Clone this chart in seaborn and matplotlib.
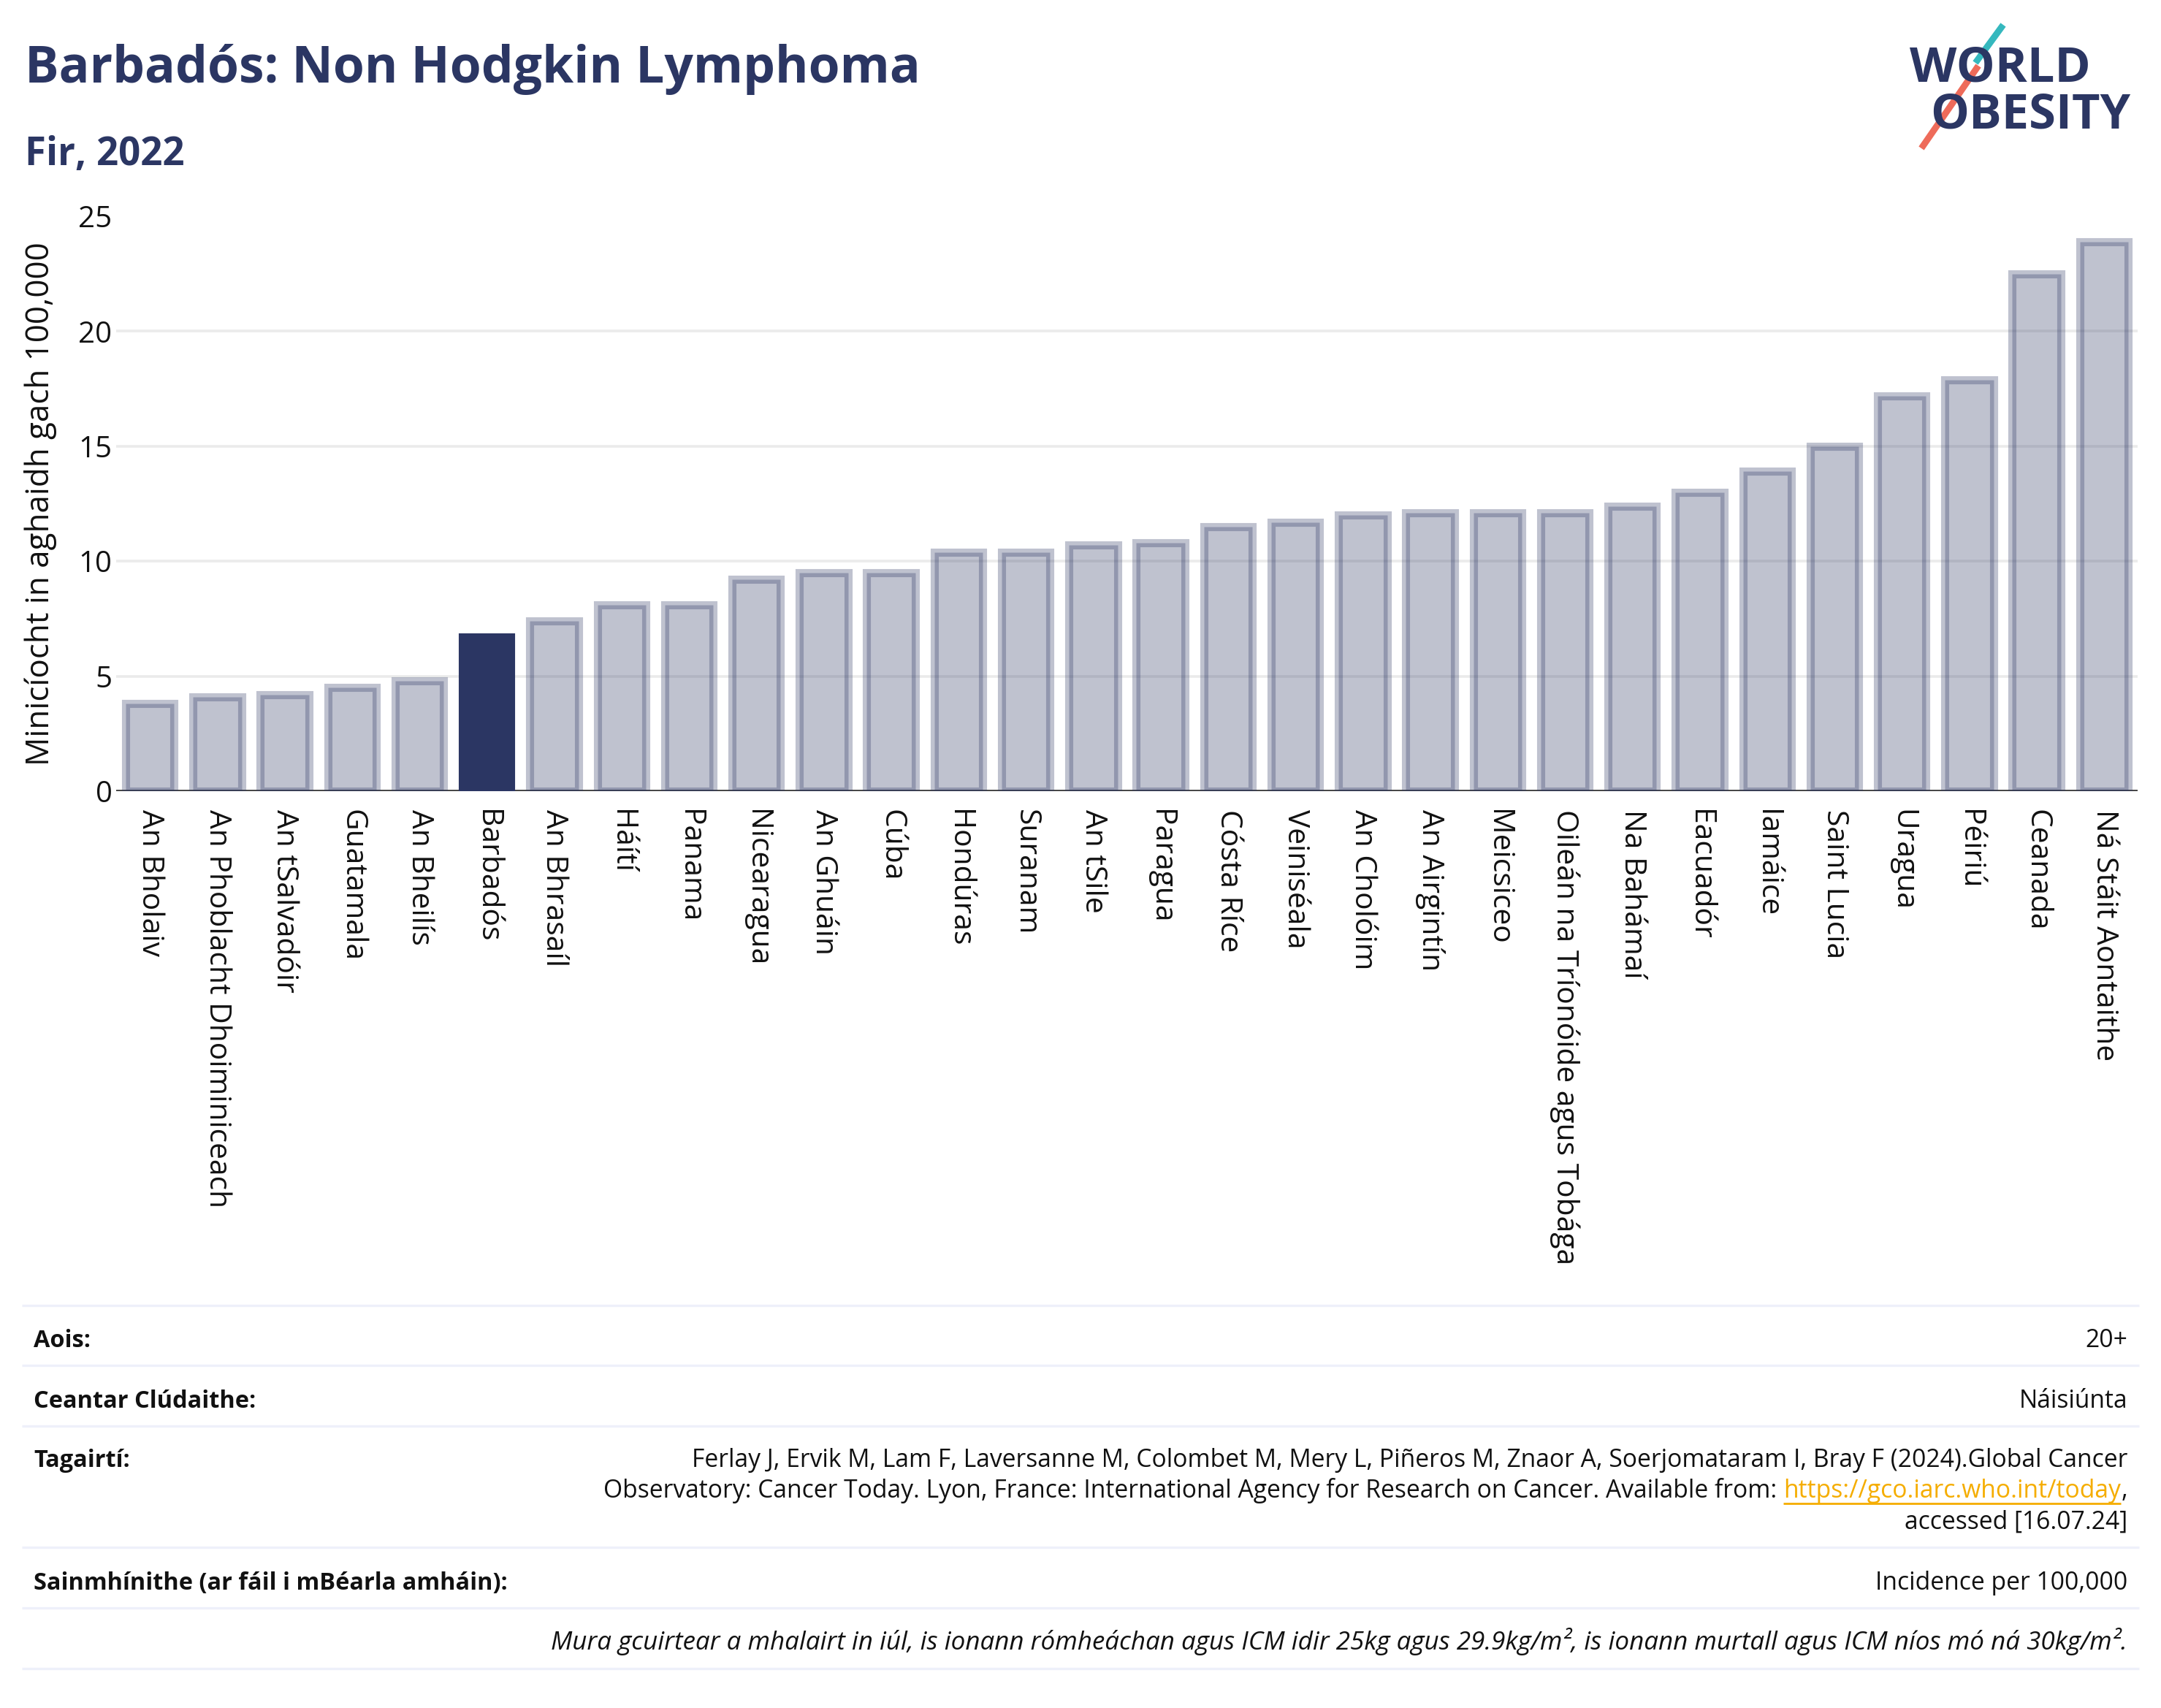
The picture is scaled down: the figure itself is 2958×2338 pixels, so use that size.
import matplotlib
matplotlib.use("Agg")
import matplotlib.pyplot as plt
import seaborn as sns
import numpy as np
from matplotlib.lines import Line2D

# ---------------- data ----------------
countries = ["An Bholaiv", "An Phoblacht Dhoiminiceach", "An tSalvadóir", "Guatamala",
             "An Bheilís", "Barbadós", "An Bhrasaíl", "Háítí", "Panama", "Nicearagua",
             "An Ghuáin", "Cúba", "Hondúras", "Suranam", "An tSile", "Paragua",
             "Cósta Ríce", "Veiniséala", "An Cholóim", "An Airgintín", "Meicsiceo",
             "Oileán na Tríonóide agus Tobága", "Na Bahámaí", "Eacuadór", "Iamáice",
             "Saint Lucia", "Uragua", "Péiriú", "Ceanada", "Ná Stáit Aontaithe"]
values = [3.8, 4.1, 4.2, 4.5, 4.8, 6.7, 7.4, 8.1, 8.1, 9.2,
          9.5, 9.5, 10.4, 10.4, 10.7, 10.8, 11.5, 11.7, 12.0, 12.1,
          12.1, 12.1, 12.4, 13.0, 13.9, 15.0, 17.2, 17.9, 22.5, 23.9]
highlight = "Barbadós"
y_ticks = [0, 5, 10, 15, 20, 25]

title = "Barbadós: Non Hodgkin Lymphoma"
subtitle = "Fir, 2022"
y_label = "Minicíocht in aghaidh gach 100,000"

footer_rows = [
    ("Aois:", "20+"),
    ("Ceantar Clúdaithe:", "Náisiúnta"),
    ("Tagairtí:", None),
    ("Sainmhínithe (ar fáil i mBéarla amháin):", "Incidence per 100,000"),
]
ref_line1 = ("Ferlay J, Ervik M, Lam F, Laversanne M, Colombet M, Mery L, Piñeros M, "
             "Znaor A, Soerjomataram I, Bray F (2024).Global Cancer")
ref_line2_pre = ("Observatory: Cancer Today. Lyon, France: International Agency for "
                 "Research on Cancer. Available from: ")
ref_url = "https://gco.iarc.who.int/today"
ref_line2_post = ","
ref_line3 = "accessed [16.07.24]"
note = ("Mura gcuirtear a mhalairt in iúl, is ionann rómheáchan agus ICM idir 25kg agus "
        "29.9kg/m², is ionann murtall agus ICM níos mó ná 30kg/m².")

# ---------------- style ----------------
NAVY = "#2B3663"
TEAL = "#35B8BE"
CORAL = "#EE6B5A"
URL_COL = "#F5AD00"
W, H, DPI = 2958, 2338, 200

sns.set_theme(style="white")
plt.rcParams["font.family"] = ["Open Sans", "DejaVu Sans"]

fig = plt.figure(figsize=(W / DPI, H / DPI), dpi=DPI)
fig.patch.set_facecolor("white")

ax_left, ax_right = 159 / W, 2926 / W
ax_bottom, ax_top = 1 - 1083 / H, 1 - 296 / H
ax = fig.add_axes([ax_left, ax_bottom, ax_right - ax_left, ax_top - ax_bottom])

sns.barplot(x=countries, y=values, color=NAVY, saturation=1, width=0.72,
            linewidth=4, edgecolor=NAVY, ax=ax, zorder=2)

light_face = matplotlib.colors.to_rgba(NAVY, 0.30)
light_edge = matplotlib.colors.to_rgba(NAVY, 0.30)
for patch in ax.patches:
    idx = int(round(patch.get_x() + patch.get_width() / 2))
    if countries[idx] == highlight:
        patch.set_facecolor(NAVY)
        patch.set_edgecolor(NAVY)
    else:
        patch.set_facecolor(light_face)
        patch.set_edgecolor(light_edge)

ax.set_xlim(-0.5, len(countries) - 0.5)
ax.set_ylim(0, 25)
ax.set_yticks(y_ticks)
ax.set_yticklabels([str(t) for t in y_ticks])
ax.yaxis.grid(True, color="#EBEBEB", linewidth=1.3)
ax.set_axisbelow(True)
for gl, t in zip(ax.get_ygridlines(), y_ticks):
    if t in (0, 25):
        gl.set_visible(False)
ax.axhline(0, color="#444444", linewidth=1.4, zorder=1)
for s in ax.spines.values():
    s.set_visible(False)

ax.tick_params(axis="y", length=0, pad=2, labelsize=14.5, labelcolor="#111111")
ax.tick_params(axis="x", length=0, pad=9, labelsize=14.7, labelcolor="#111111")
for lab in ax.get_xticklabels():
    lab.set_rotation(-90)
    lab.set_ha("center")
    lab.set_va("top")

ax.set_xlabel("")
ax.set_ylabel(y_label, fontsize=15.8, color="#111111")
ax.yaxis.set_label_coords((78 - 159) / (2926 - 159), 0.5)

# ---------------- titles ----------------
fig.text(34 / W, 1 - 113 / H, title, fontsize=25, fontweight="bold", color=NAVY,
         ha="left", va="baseline")
fig.text(34 / W, 1 - 226 / H, subtitle, fontsize=19, fontweight="bold", color=NAVY,
         ha="left", va="baseline")

# ---------------- logo ----------------
fig.text(2614 / W, 1 - 112 / H, "WORLD", fontsize=24, fontweight="bold", color=NAVY,
         ha="left", va="baseline")
fig.text(2642 / W, 1 - 176 / H, "OBESITY", fontsize=24, fontweight="bold", color=NAVY,
         ha="left", va="baseline")


def fig_line(x0, y0, x1, y1, color, lw, capstyle="butt"):
    ln = Line2D([x0 / W, x1 / W], [1 - y0 / H, 1 - y1 / H], transform=fig.transFigure,
                color=color, linewidth=lw, solid_capstyle=capstyle)
    fig.add_artist(ln)


fig_line(2744, 32, 2628, 205, "white", 6.5)
fig_line(2742, 34, 2704, 86, TEAL, 3.2)
fig_line(2708, 90, 2630, 203, CORAL, 3.2)

# ---------------- footer ----------------
for yy in [1787, 1869, 1952, 2118, 2201, 2284]:
    fig_line(30, yy, 2928, yy, "#EEF0FA", 1.2)

FS = 12.1
FS_BOLD = 11.7
FS_IT = 12.6
LX, RX = 46 / W, 2912 / W
row_baselines = [1844, 1927, 2008, 2176]
for (lab, val), yb in zip(footer_rows, row_baselines):
    fig.text(LX, 1 - yb / H, lab, fontsize=FS_BOLD, fontweight="bold", color="#111111",
             ha="left", va="baseline")
    if val is not None:
        fig.text(RX, 1 - yb / H, val, fontsize=FS, color="#111111",
                 ha="right", va="baseline")

fig.text(RX, 1 - 2008 / H, ref_line1, fontsize=FS, color="#111111", ha="right", va="baseline")
fig.text(RX, 1 - 2092.5 / H, ref_line3, fontsize=FS, color="#111111", ha="right", va="baseline")

renderer = fig.canvas.get_renderer()
yb2 = 1 - 2049.5 / H
t_post = fig.text(RX, yb2, ref_line2_post, fontsize=FS, color="#111111", ha="right", va="baseline")
bb = t_post.get_window_extent(renderer=renderer)
x_url_right = bb.x0 / W
t_url = fig.text(x_url_right, yb2, ref_url, fontsize=FS, color=URL_COL, ha="right", va="baseline")
bb_url = t_url.get_window_extent(renderer=renderer)
fig.text(bb_url.x0 / W, yb2, ref_line2_pre, fontsize=FS, color="#111111", ha="right", va="baseline")
fig_line(bb_url.x0, 2049.5 + 8, bb_url.x1, 2049.5 + 8, URL_COL, 1.0)

fig.text(RX, 1 - 2258.5 / H, note, fontsize=FS_IT, style="italic", color="#111111",
         ha="right", va="baseline")

fig.savefig("out.png", dpi=DPI, facecolor="white")
